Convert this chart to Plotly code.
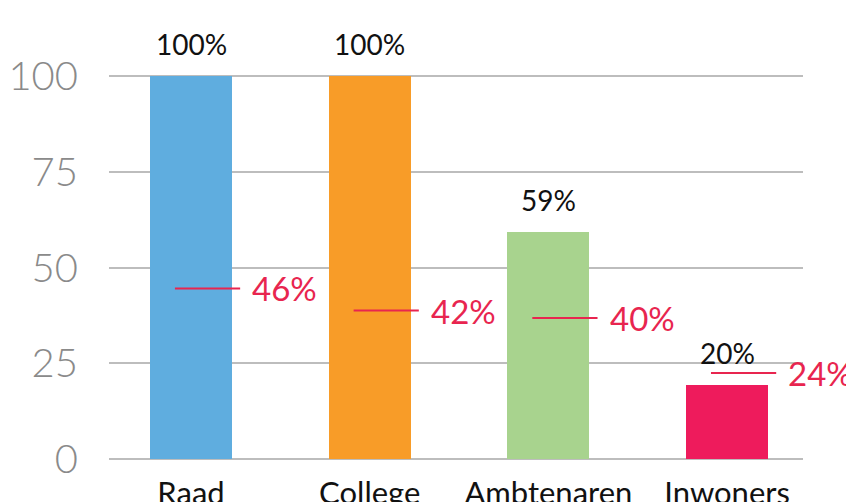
import plotly.graph_objects as go

categories = ["Raad", "College", "Ambtenaren", "Inwoners"]
bar_values = [100, 100, 59.4, 19.3]
bar_labels = ["100%", "100%", "59%", "20%"]
bar_colors = ["#5FADDF", "#F89C28", "#A8D38E", "#EE1B5C"]
bench_values = [44.6, 38.8, 36.9, 22.5]
bench_labels = ["46%", "42%", "40%", "24%"]
y_ticks = [0, 25, 50, 75, 100]

red = "#E8254F"
xs = list(range(len(categories)))

fig = go.Figure()
fig.add_trace(go.Bar(x=xs, y=bar_values, width=0.46, marker=dict(color=bar_colors, line=dict(width=0)),
                     hoverinfo="skip", showlegend=False))

for i, v in enumerate(bench_values):
    fig.add_trace(go.Scatter(x=[i - 0.09, i + 0.275], y=[v, v], mode="lines",
                             line=dict(color=red, width=2), showlegend=False, hoverinfo="skip",
                             cliponaxis=False))
    fig.add_annotation(x=i + 0.275, y=v, text=bench_labels[i], showarrow=False,
                       xanchor="left", yanchor="middle", xshift=10,
                       font=dict(family="Lato", size=33, color=red))

for i, v in enumerate(bar_values):
    fig.add_annotation(x=i, y=v, text=bar_labels[i], showarrow=False,
                       xanchor="center", yanchor="middle", yshift=32,
                       font=dict(family="Lato", size=28, color="#111111"))

fig.update_layout(
    width=854, height=502,
    margin=dict(l=101, r=59, t=53, b=47),
    plot_bgcolor="white", paper_bgcolor="white",
    bargap=0,
    xaxis=dict(range=[-0.459, 3.425], tickvals=xs, ticktext=categories, automargin=False,
               showgrid=False, zeroline=False, showline=False,
               ticks="outside", ticklen=3, tickcolor="rgba(0,0,0,0)",
               tickfont=dict(family="Lato", size=31, color="#111111")),
    yaxis=dict(range=[-1, 104], tickvals=y_ticks, showgrid=True, gridcolor="#BDBDBD", gridwidth=2,
               zeroline=False, showline=False, automargin=False,
               ticks="outside", ticklen=22, tickcolor="rgba(0,0,0,0)",
               tickfont=dict(family="Lato", size=40, color="#8A8A8A", weight=300)),
)

fig.write_html("out.html")
